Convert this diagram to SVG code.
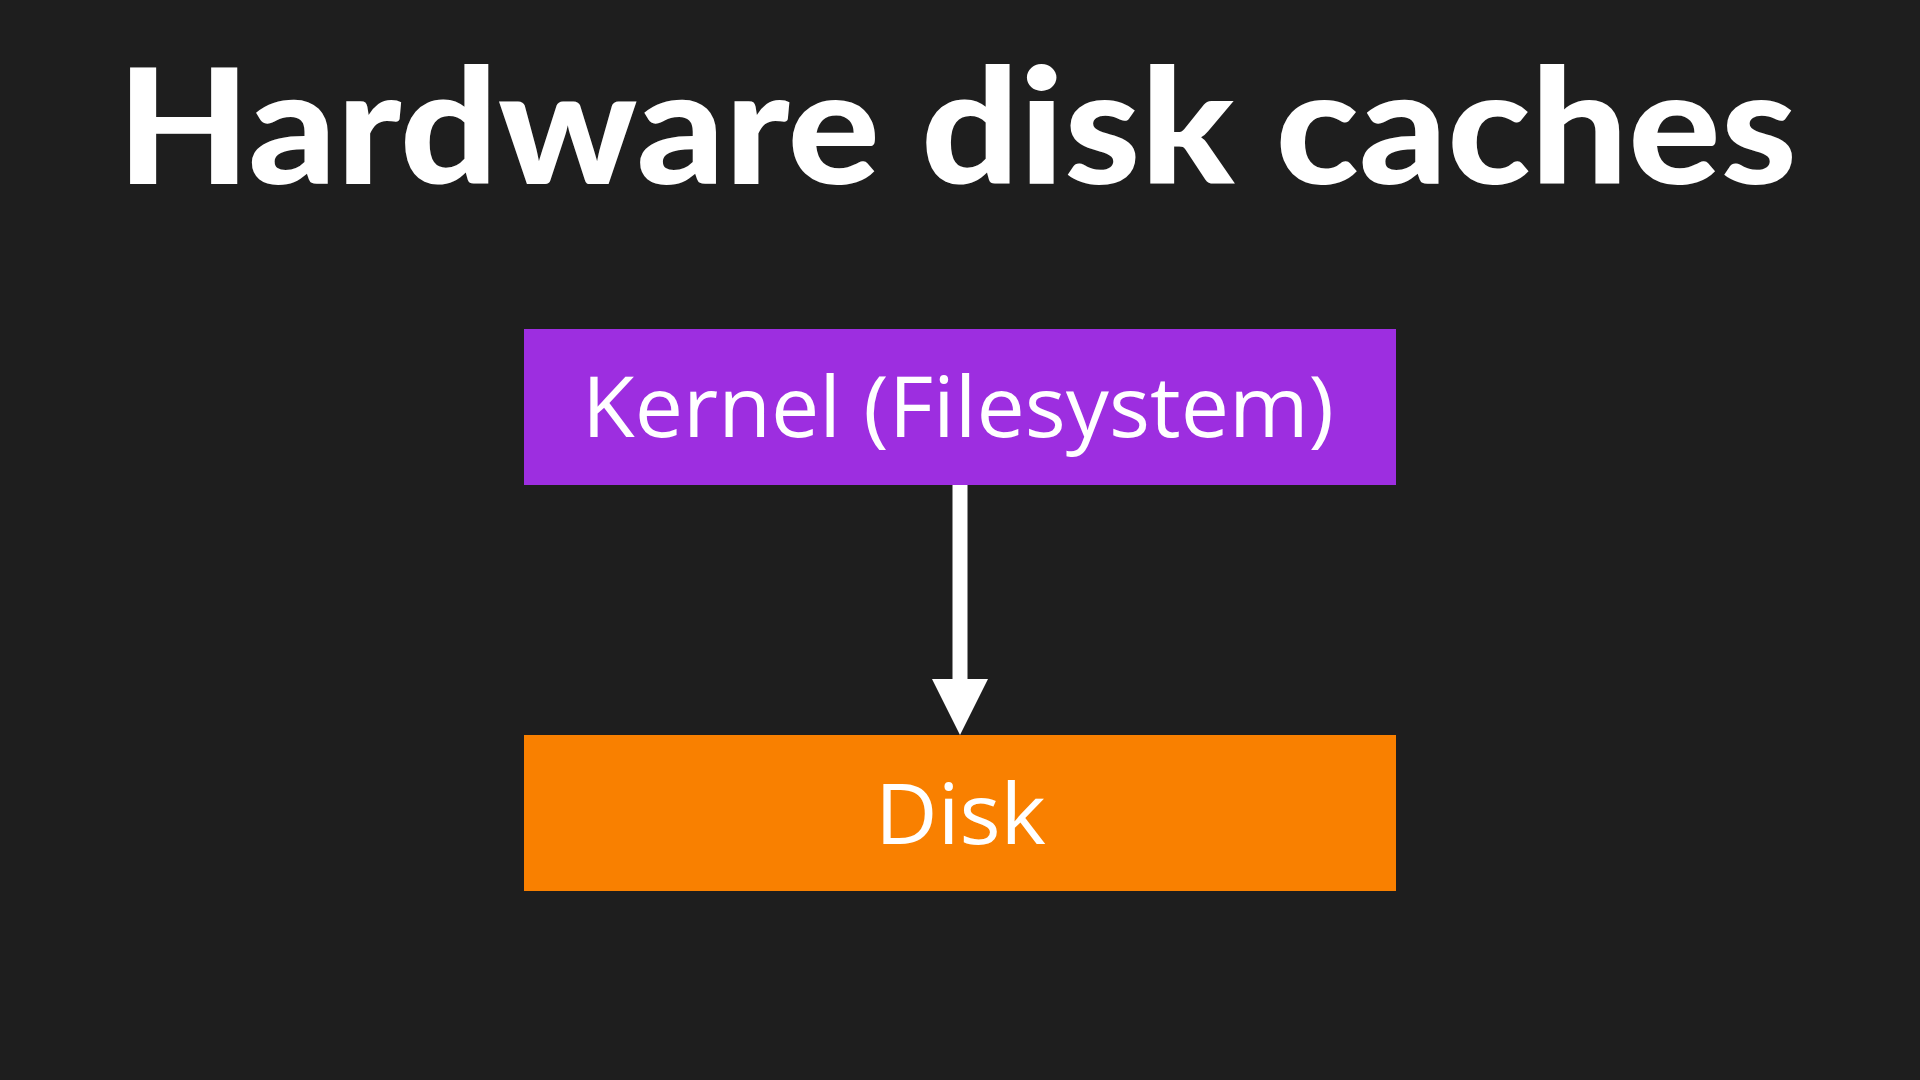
<svg xmlns="http://www.w3.org/2000/svg" width="1920" height="1080" viewBox="0 0 1920 1080">
<defs>
<style>
.title{font-family:"Lato","Open Sans","Liberation Sans",sans-serif;font-weight:900;font-size:160px;fill:#ffffff}
.lbl{font-family:"Open Sans","Noto Sans","Liberation Sans",sans-serif;font-weight:400;font-size:85px;fill:#ffffff}
.conn{stroke:#ffffff;stroke-width:15;fill:none}
</style>
</defs>
<rect width="1920" height="1080" fill="#1e1e1e"/>
<text class="title" x="117" y="184" textLength="1680" lengthAdjust="spacingAndGlyphs">Hardware disk caches</text>
<g id="connectors">
<line class="conn" x1="960" y1="485" x2="960" y2="682"/>
<path d="M932,679 L988,679 L960,735 Z" fill="#ffffff"/>
</g>
<g id="kernel">
<rect x="524" y="329" width="872" height="156" fill="#9d2ee0"/>
<text class="lbl" x="582" y="437" textLength="752" lengthAdjust="spacingAndGlyphs">Kernel (Filesystem)</text>
</g>
<g id="disk">
<rect x="524" y="735" width="872" height="156" fill="#f98000"/>
<text class="lbl" x="875" y="844" textLength="171" lengthAdjust="spacingAndGlyphs">Disk</text>
</g>
</svg>
